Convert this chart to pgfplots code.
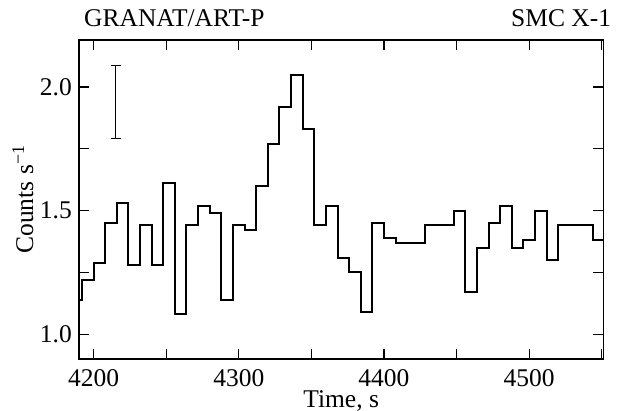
\documentclass[border=0pt]{standalone}
\usepackage{fontspec}
\setmainfont{Liberation Serif}
\usepackage{pgfplots}
\pgfplotsset{compat=1.18}
\begin{document}
\fontsize{25.5bp}{30bp}\selectfont
\begin{tikzpicture}
\path[use as bounding box] (-79bp,-52bp) rectangle (540bp,359bp);
\begin{axis}[
  name=ax,
  at={(0,0)}, anchor=south west,
  scale only axis, width=524.3bp, height=319bp,
  xmin=4190, xmax=4551, ymin=0.9, ymax=2.19,
  axis line style={line width=1.2bp},
  every tick/.style={line width=1.1bp, black},
  tick align=inside, major tick length=10bp, minor tick length=10bp,
  xtick={4200,4300,4400,4500}, minor xtick={4250,4350,4450,4550},
  ytick={1.0,1.5,2.0}, minor ytick={1.25,1.75},
  xtick pos=both, ytick pos=both,
  /pgf/number format/assume math mode=true,
  xticklabel style={/pgf/number format/set thousands separator={}, anchor=base, yshift=-27.7bp, inner sep=0pt},
  yticklabel style={/pgf/number format/fixed, /pgf/number format/fixed zerofill, /pgf/number format/precision=1, anchor=east, inner sep=0pt, xshift=-7bp},
  tick label style={font=\fontsize{25.5bp}{30bp}\selectfont},
  xlabel={Time, s},
  ylabel={Counts s\textsuperscript{−1}},
  every axis x label/.style={at={(axis description cs:0.5,-0.1505)}, anchor=base, inner sep=0pt},
  every axis y label/.style={at={(axis description cs:-0.0877,0.5)}, rotate=90, anchor=base, inner sep=0pt},
  clip=true,
]
\addplot[const plot, black, line width=2bp] coordinates {
(4184,1.14) (4192,1.22) (4200,1.29) (4208,1.45) (4216,1.53) (4224,1.28)
(4232,1.44) (4240,1.28) (4248,1.61) (4256,1.08) (4264,1.44) (4272,1.52)
(4280,1.49) (4288,1.14) (4296,1.44) (4304,1.42) (4312,1.60) (4320,1.77)
(4328,1.92) (4336,2.05) (4344,1.83) (4352,1.44) (4360,1.52) (4368,1.31)
(4376,1.25) (4384,1.09) (4392,1.45) (4400,1.39) (4408,1.37) (4428,1.44)
(4448,1.50) (4456,1.17) (4464,1.35) (4472,1.45) (4480,1.52) (4488,1.35)
(4496,1.38) (4504,1.50) (4512,1.30) (4520,1.44) (4544,1.38) (4556,1.38)
};
\addplot[black, line width=1bp, draw=none, mark=none,
  error bars/.cd, y dir=both, y explicit,
  error bar style={line width=1bp, black},
  error mark options={rotate=90, mark size=5bp, line width=1bp, black}]
  coordinates {(4215.2,1.939) +- (0,0.147)};
\end{axis}
\node[anchor=base west, inner sep=0pt] at ([xshift=5bp,yshift=13bp]ax.north west) {GRANAT/ART-P};
\node[anchor=base east, inner sep=0pt] at ([xshift=8bp,yshift=13bp]ax.north east) {SMC X-1};
\end{tikzpicture}
\end{document}
